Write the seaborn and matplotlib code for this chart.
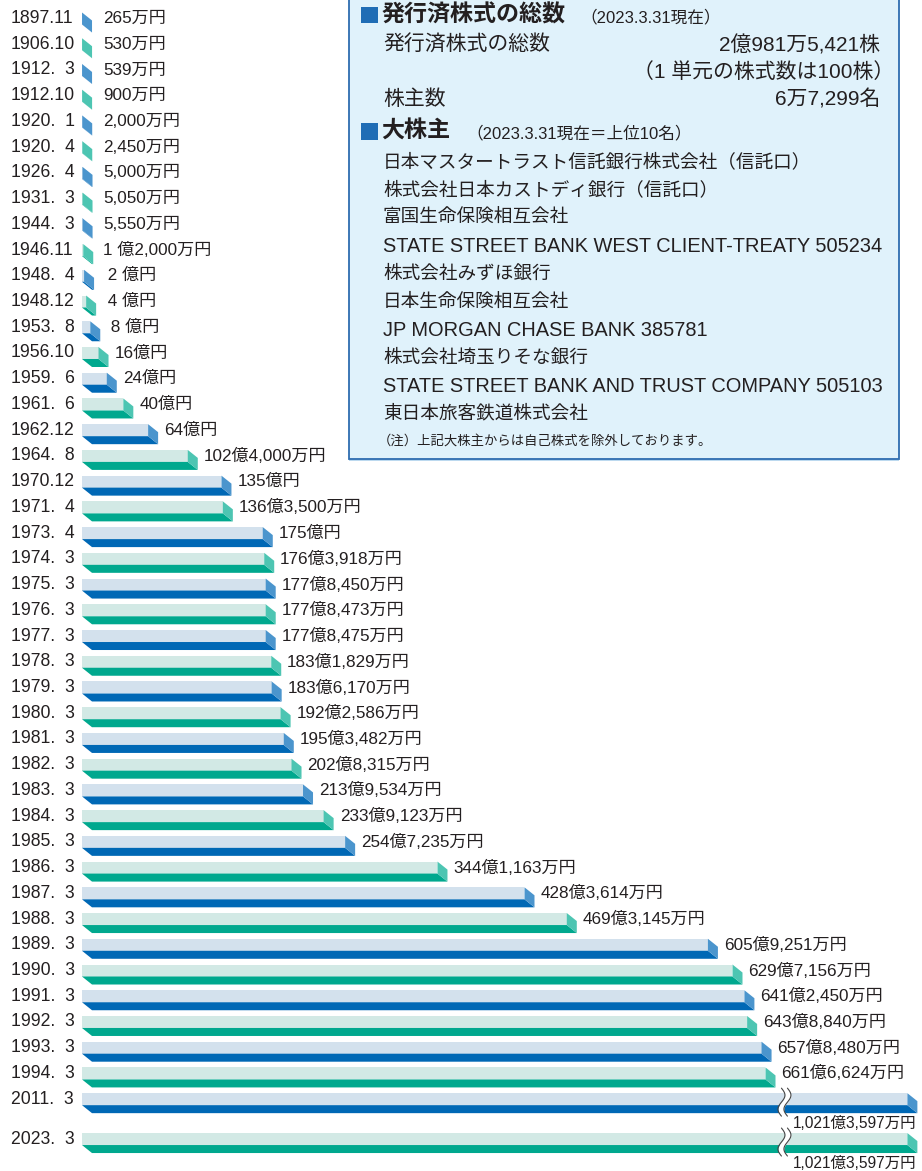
import numpy as np
import matplotlib
matplotlib.use("Agg")
import matplotlib.pyplot as plt
import seaborn as sns
import pandas as pd
from matplotlib.patches import Polygon, Rectangle

# ---------------- data ----------------
dates = ["1897.11", "1906.10", "1912.  3", "1912.10", "1920.  1", "1920.  4", "1926.  4",
         "1931.  3", "1944.  3", "1946.11", "1948.  4", "1948.12", "1953.  8", "1956.10",
         "1959.  6", "1961.  6", "1962.12", "1964.  8", "1970.12", "1971.  4", "1973.  4",
         "1974.  3", "1975.  3", "1976.  3", "1977.  3", "1978.  3", "1979.  3", "1980.  3",
         "1981.  3", "1982.  3", "1983.  3", "1984.  3", "1985.  3", "1986.  3", "1987.  3",
         "1988.  3", "1989.  3", "1990.  3", "1991.  3", "1992.  3", "1993.  3", "1994.  3",
         "2011.  3", "2023.  3"]

capital_oku = [0.0265, 0.053, 0.0539, 0.09, 0.2, 0.245, 0.5, 0.505, 0.555, 1.2, 2, 4, 8,
               16, 24, 40, 64, 102.4, 135, 136.35, 175, 176.3918, 177.845, 177.8473,
               177.8475, 183.1829, 183.617, 192.2586, 195.3482, 202.8315, 213.9534,
               233.9123, 254.7235, 344.1163, 428.3614, 469.3145, 605.9251, 629.7156,
               641.245, 643.884, 657.848, 661.6624, 1021.3597, 1021.3597]

value_labels = ["265万円", "530万円", "539万円", "900万円", "2,000万円", "2,450万円",
                "5,000万円", "5,050万円", "5,550万円", "1 億2,000万円", " 2 億円", " 4 億円",
                " 8 億円", "16億円", "24億円", "40億円", "64億円", "102億4,000万円", "135億円",
                "136億3,500万円", "175億円", "176億3,918万円", "177億8,450万円",
                "177億8,473万円", "177億8,475万円", "183億1,829万円", "183億6,170万円",
                "192億2,586万円", "195億3,482万円", "202億8,315万円", "213億9,534万円",
                "233億9,123万円", "254億7,235万円", "344億1,163万円", "428億3,614万円",
                "469億3,145万円", "605億9,251万円", "629億7,156万円", "641億2,450万円",
                "643億8,840万円", "657億8,480万円", "661億6,624万円", "1,021億3,597万円",
                "1,021億3,597万円"]

box1_title = "発行済株式の総数"
box1_date = "（2023.3.31現在）"
box1_rows = [("発行済株式の総数", "2億981万5,421株"),
             ("", "（1 単元の株式数は100株）"),
             ("株主数", "6万7,299名")]
box2_title = "大株主"
box2_date = "（2023.3.31現在＝上位10名）"
shareholders = ["日本マスタートラスト信託銀行株式会社（信託口）",
                "株式会社日本カストディ銀行（信託口）",
                "富国生命保険相互会社",
                "STATE STREET BANK WEST CLIENT-TREATY 505234",
                "株式会社みずほ銀行",
                "日本生命保険相互会社",
                "JP MORGAN CHASE BANK 385781",
                "株式会社埼玉りそな銀行",
                "STATE STREET BANK AND TRUST COMPANY 505103",
                "東日本旅客鉄道株式会社"]
note = "（注）上記大株主からは自己株式を除外しております。"

# ---------------- style ----------------
sns.set_style("white")
FONT = ["Liberation Sans", "Noto Sans CJK JP"]
plt.rcParams["font.family"] = FONT
TXT = "#231f20"

W, H = 922, 1171
PX = 1.033          # pixels per 億円
X0 = 82             # pixel x of bar origin
ROW = 25.73         # pixels per row
Y0 = 18.5           # pixel y of first row centre
BREAK_AT = 799      # displayed length of broken bars (億円 units)
BREAK_X = 680       # x of break symbol

def dx(p):  # pixels -> x data units
    return p / PX

def dy(p):  # pixels -> y data units
    return p / ROW

def pxy(x, y):  # pixel position -> data
    return (x - X0) / PX, (y - Y0) / ROW

n = len(dates)
rows = np.arange(n, dtype=float)
rows[-1] = 43.55
group = ["blue" if i % 2 == 0 else "green" for i in range(n)]
shown = [min(v, BREAK_AT) for v in capital_oku]
df = pd.DataFrame({"row": rows, "shown": shown, "group": group})

front = {"blue": "#cfe1f1", "green": "#ceede7"}
dark = {"blue": "#0068b5", "green": "#00a88e"}
side = {"blue": "#4b95cd", "green": "#4dc5b2"}

fig = plt.figure(figsize=(W / 100, H / 100), dpi=100)
ax = fig.add_axes([0, 0, 1, 1])

BAR_H = dy(12)
sns.barplot(data=df, x="shown", y="row", hue="group", palette=front, orient="y",
            native_scale=True, dodge=False, width=BAR_H, errorbar=None,
            linewidth=0, legend=False, ax=ax)

DX, DY = dx(10), dy(8)
for r, L, g in zip(rows, shown, group):
    top, bot = r - BAR_H / 2, r + BAR_H / 2
    ax.add_patch(Polygon([(0, bot), (L, bot), (L + DX, bot + DY), (DX, bot + DY)],
                         closed=True, fc=dark[g], ec="none", zorder=3))
    ax.add_patch(Polygon([(L, top), (L + DX, top + DY), (L + DX, bot + DY), (L, bot)],
                         closed=True, fc=side[g], ec="none", zorder=3))

# break symbols on the two long bars
for r, v in zip(rows, capital_oku):
    if v > BREAK_AT:
        t = np.linspace(r - dy(11), r + dy(17), 60)
        s = (t - t[0]) / (t[-1] - t[0])
        wave = dx(3.5) * np.sin(2 * np.pi * s)
        left = BREAK_X - dx(3) + wave
        right = BREAK_X + dx(3) + wave
        ax.fill_betweenx(t, left, right, color="white", zorder=5, lw=0)
        ax.plot(left, t, color="#444444", lw=0.8, zorder=6)
        ax.plot(right, t, color="#444444", lw=0.8, zorder=6)

# labels
for r, v, L, d, lab in zip(rows, capital_oku, shown, dates, value_labels):
    ax.text(pxy(11, 0)[0], r, d, ha="left", va="center", fontsize=12.7, color=TXT)
    if v > BREAK_AT:
        ax.text(pxy(916, 0)[0], r + dy(24), lab, ha="right", va="center",
                fontsize=11.2, color=TXT, zorder=7)
    else:
        x = max(L + DX + dx(6), pxy(103, 0)[0])
        ax.text(x, r, lab, ha="left", va="center", fontsize=12.3, color=TXT)

# info box
bx0, by0 = pxy(349, -5)
bx1, by1 = pxy(899, 459)
sx0, sy0 = pxy(349, 459)
ax.add_patch(Rectangle((sx0, sy0), bx1 - bx0, dy(2.5), fc="#bcd9ef", ec="none", zorder=7))
ax.add_patch(Rectangle((bx0, by0), bx1 - bx0, by1 - by0, fc="#e0f2fb", ec="#2e6db0",
                       lw=1.3, zorder=8))

def ptext(x, y, s, **kw):
    xx, yy = pxy(x, y)
    kw.setdefault("color", TXT)
    ax.text(xx, yy, s, va="center", zorder=9, **kw)

def square(x, y, size=17):
    xx, yy = pxy(x, y - size / 2)
    ax.add_patch(Rectangle((xx, yy), dx(size), dy(size), fc="#1f6db5", ec="none", zorder=9))

square(361, 15)
ptext(381, 15, box1_title, fontsize=16.6, fontweight="bold")
ptext(580, 17, box1_date, fontsize=12)
ys1 = [45, 72, 99]
for y, (lft, rgt) in zip(ys1, box1_rows):
    if lft:
        ptext(383, y, lft, fontsize=15)
        ptext(880, y, rgt, fontsize=15, ha="right")
    else:
        ptext(894, y, rgt, fontsize=15, ha="right")

square(361, 131)
ptext(381, 131, box2_title, fontsize=16.6, fontweight="bold")
ptext(466, 133, box2_date, fontsize=12)
for i, s in enumerate(shareholders):
    latin = all(ord(c) < 128 for c in s)
    ptext(383, 162 + 28 * i, s, fontsize=14.4 if latin else 13.4)
ptext(378, 441, note, fontsize=9.6)

ax.set_xlim(-X0 / PX, (W - X0) / PX)
ax.set_ylim((H - Y0) / ROW, -Y0 / ROW)
ax.axis("off")

fig.savefig("out.png", dpi=100)
